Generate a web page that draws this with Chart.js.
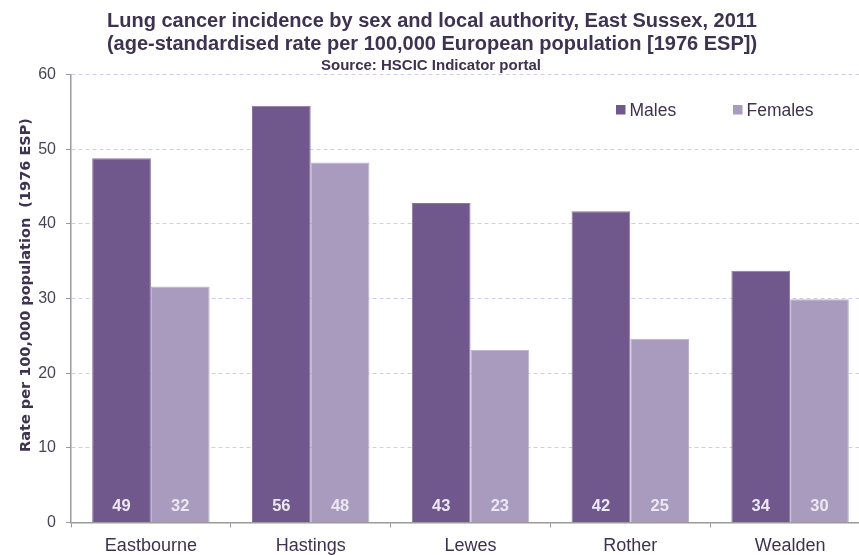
<!DOCTYPE html>
<html>
<head>
<meta charset="utf-8">
<script src="https://cdn.jsdelivr.net/npm/chart.js@4"></script>
<style>
html, body { margin: 0; padding: 0; background: #fff; overflow: hidden; }
#wrap { width: 870px; height: 555px; }
</style>
</head>
<body>
<div id="wrap"><canvas id="myChart"></canvas></div>
<script>
let areas = ['Eastbourne', 'Hastings', 'Lewes', 'Rother', 'Wealden']
let males = [48.8, 55.8, 42.8, 41.7, 33.7]
let females = [31.6, 48.2, 23.1, 24.6, 29.9]
let yTicks = [0, 10, 20, 30, 40, 50, 60]

let titleLines = ['Lung cancer incidence by sex and local authority, East Sussex, 2011',
                  '(age-standardised rate per 100,000 European population [1976 ESP])']
let sourceText = 'Source: HSCIC Indicator portal'
let yTitle = 'Rate per 100,000 population  (1976 ESP)'

let textColor = '#3d3350'
let axisColor = '#9a9a9a'
let sans = '"Liberation Sans", Arial, sans-serif'

// titles, legend, y title and the white values at the foot of each bar
let extras = {
    id: 'extras',
    afterDraw(chart) {
        let ctx = chart.ctx
        ctx.save()
        ctx.fillStyle = textColor
        ctx.textAlign = 'center'
        ctx.textBaseline = 'alphabetic'
        ctx.font = 'bold 20px ' + sans
        ctx.fillText(titleLines[0], 432, 27)
        ctx.fillText(titleLines[1], 432, 50)
        ctx.font = 'bold 15px ' + sans
        ctx.fillText(sourceText, 431, 70)

        let y0 = chart.scales.y.getPixelForValue(0)
        ctx.font = 'bold 16.5px ' + sans
        ctx.fillStyle = '#ece8f2'
        ctx.textBaseline = 'middle'
        chart.data.datasets.forEach((ds, i) => {
            chart.getDatasetMeta(i).data.forEach((bar, j) => {
                ctx.fillText(Math.round(ds.data[j]), bar.x, y0 - 16)
            })
        })

        // legend
        let lx = [616, 733]
        ctx.font = '17.5px ' + sans
        ctx.textAlign = 'left'
        ctx.textBaseline = 'alphabetic'
        chart.data.datasets.forEach((ds, i) => {
            ctx.fillStyle = ds.backgroundColor
            ctx.fillRect(lx[i], 105, 9.5, 9.5)
            ctx.fillStyle = textColor
            ctx.fillText(ds.label, lx[i] + 13.5, 116)
        })

        // y axis title
        ctx.translate(26, 285)
        ctx.rotate(-Math.PI / 2)
        ctx.textAlign = 'center'
        ctx.textBaseline = 'middle'
        ctx.font = 'bold 14.5px "DejaVu Sans", Verdana, sans-serif'
        ctx.fillStyle = textColor
        ctx.fillText(yTitle, 0, 0)
        ctx.restore()
    }
}

let miGrafico = new Chart('myChart', {
    type: 'bar',
    data: {
        labels: areas,
        datasets: [{
            label: 'Males',
            data: males,
            backgroundColor: '#70588c',
            borderColor: '#8a76a2',
            borderWidth: 1
        }, {
            label: 'Females',
            data: females,
            backgroundColor: '#a99bbe',
            borderColor: '#bdb2cf',
            borderWidth: 1
        }]
    },
    options: {
        responsive: true,
        maintainAspectRatio: false,
        animation: false,
        categoryPercentage: 0.735,
        barPercentage: 1,
        layout: { padding: { left: 0, right: 0, top: 74.5, bottom: 0 } },
        plugins: {
            legend: { display: false },
            tooltip: { enabled: false },
            title: { display: false }
        },
        scales: {
            x: {
                grid: { drawOnChartArea: false, drawTicks: true, tickLength: 5, tickColor: axisColor, offset: true },
                border: { color: axisColor, width: 1.5 },
                ticks: { color: textColor, padding: 8, font: { family: sans, size: 18 } },
                afterFit(scale) { scale.height = 32.5 }
            },
            y: {
                min: 0,
                max: 60,
                afterBuildTicks(scale) { scale.ticks = yTicks.map(v => ({ value: v })) },
                grid: { color: '#d4cce6', lineWidth: 1, tickLength: 5, tickColor: axisColor, tickBorderDash: [] },
                border: { color: axisColor, width: 1.5, dash: [4, 3] },
                ticks: { color: '#4a4458', padding: 10, font: { family: sans, size: 16 } },
                afterFit(scale) { scale.width = 71 }
            }
        }
    },
    plugins: [extras]
})
</script>
</body>
</html>
